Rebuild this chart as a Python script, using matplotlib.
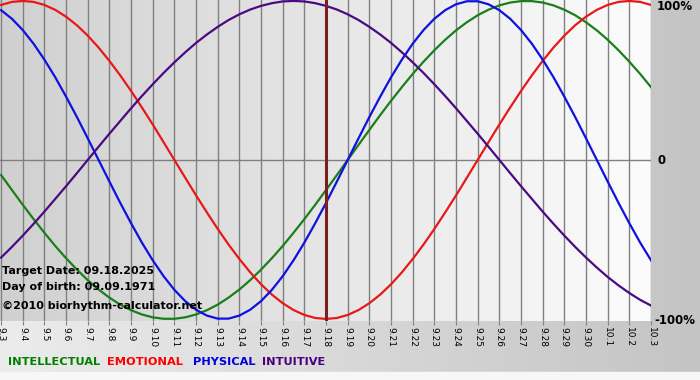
import numpy as np
import matplotlib
matplotlib.use("Agg")
import matplotlib.pyplot as plt
from matplotlib.colors import LinearSegmentedColormap

# day labels, 09.03 -> 10.03
day_labels = ["9.3", "9.4", "9.5", "9.6", "9.7", "9.8", "9.9", "9.10", "9.11",
              "9.12", "9.13", "9.14", "9.15", "9.16", "9.17", "9.18", "9.19",
              "9.20", "9.21", "9.22", "9.23", "9.24", "9.25", "9.26", "9.27",
              "9.28", "9.29", "9.30", "10.1", "10.2", "10.3"]
target_idx = 15  # 9.18

# values (-1 .. 1) every half day, starting at 9.3
intellectual = [-0.095, -0.189, -0.282, -0.372, -0.458, -0.541, -0.618, -0.690, -0.756, -0.815,
                -0.866, -0.910, -0.945, -0.972, -0.990, -0.999, -0.999, -0.990, -0.972, -0.945,
                -0.910, -0.866, -0.815, -0.756, -0.690, -0.618, -0.541, -0.458, -0.372, -0.282,
                -0.189, -0.095, 0.000, 0.095, 0.189, 0.282, 0.372, 0.458, 0.541, 0.618,
                0.690, 0.756, 0.815, 0.866, 0.910, 0.945, 0.972, 0.990, 0.999, 0.999,
                0.990, 0.972, 0.945, 0.910, 0.866, 0.815, 0.756, 0.690, 0.618, 0.541, 0.458]
emotional = [0.975, 0.994, 1.000, 0.994, 0.975, 0.944, 0.901, 0.847, 0.782, 0.707,
             0.623, 0.532, 0.434, 0.330, 0.223, 0.112, 0.000, -0.112, -0.223, -0.330,
             -0.434, -0.532, -0.623, -0.707, -0.782, -0.847, -0.901, -0.944, -0.975, -0.994,
             -1.000, -0.994, -0.975, -0.944, -0.901, -0.847, -0.782, -0.707, -0.623, -0.532,
             -0.434, -0.330, -0.223, -0.112, 0.000, 0.112, 0.223, 0.330, 0.434, 0.532,
             0.623, 0.707, 0.782, 0.847, 0.901, 0.944, 0.975, 0.994, 1.000, 0.994, 0.975]
physical = [0.942, 0.888, 0.817, 0.731, 0.631, 0.520, 0.398, 0.270, 0.136, 0.000,
            -0.136, -0.270, -0.398, -0.520, -0.631, -0.731, -0.817, -0.888, -0.942, -0.979,
            -0.998, -0.998, -0.979, -0.942, -0.888, -0.817, -0.731, -0.631, -0.520, -0.398,
            -0.270, -0.136, 0.000, 0.136, 0.270, 0.398, 0.520, 0.631, 0.731, 0.817,
            0.888, 0.942, 0.979, 0.998, 0.998, 0.979, 0.942, 0.888, 0.817, 0.731,
            0.631, 0.520, 0.398, 0.270, 0.136, 0.000, -0.136, -0.270, -0.398, -0.520, -0.631]
intuitive = [-0.614, -0.547, -0.476, -0.402, -0.325, -0.245, -0.165, -0.083, 0.000, 0.083,
             0.165, 0.245, 0.325, 0.402, 0.476, 0.547, 0.614, 0.677, 0.736, 0.789,
             0.837, 0.880, 0.916, 0.946, 0.969, 0.986, 0.997, 1.000, 0.997, 0.986,
             0.969, 0.946, 0.916, 0.880, 0.837, 0.789, 0.736, 0.677, 0.614, 0.547,
             0.476, 0.402, 0.325, 0.245, 0.165, 0.083, 0.000, -0.083, -0.165, -0.245,
             -0.325, -0.402, -0.476, -0.547, -0.614, -0.677, -0.736, -0.789, -0.837, -0.880, -0.916]

series = [("INTELLECTUAL", intellectual, "#1a7f1a", "#008000"),
          ("EMOTIONAL", emotional, "#e81818", "#ff0000"),
          ("PHYSICAL", physical, "#1010e0", "#0000dd"),
          ("INTUITIVE", intuitive, "#4b0a82", "#4b0082")]

W, H = 700, 380
fig = plt.figure(figsize=(W / 100, H / 100), dpi=100)

# background
bg = fig.add_axes([0, 0, 1, 1])
bg_cmap = LinearSegmentedColormap.from_list("bg", ["#ececec", "#c4c4c4"])
bg.imshow(np.linspace(0, 1, 256)[None, :], extent=[0, W, 372, 0], aspect="auto", cmap=bg_cmap)
bg.axhspan(372, H, color="#f7f7f7")
bg.set_xlim(0, W)
bg.set_ylim(H, 0)
bg.axis("off")

# plot area
ax = fig.add_axes([0 / W, 1 - 321 / H, 651 / W, 321 / H])
x = np.arange(len(day_labels))
xh = np.arange(len(physical)) * 0.5
xlo, xhi = -0.05, 30
ylo, yhi = -1.013, 1.006
pa_cmap = LinearSegmentedColormap.from_list("pa", ["#d0d0d0", "#fcfcfc"])
ax.imshow(np.linspace(0, 1, 256)[None, :], extent=[xlo, xhi, ylo, yhi], aspect="auto",
          cmap=pa_cmap, zorder=0)
ax.set_xlim(xlo, xhi)
ax.set_ylim(ylo, yhi)

ax.set_xticks(x)
ax.set_xticklabels(day_labels, rotation=270, fontsize=6.5, va="top", ha="center")
ax.tick_params(axis="x", length=3, color="#808080", pad=1)
ax.set_yticks([])
ax.grid(axis="x", color="#808080", lw=1, zorder=1)
ax.axhline(0, color="#808080", lw=1, zorder=1)
for s in ax.spines.values():
    s.set_visible(False)

for name, vals, col, _ in series:
    ax.plot(xh, vals, color=col, lw=1.6, zorder=3, solid_joinstyle="round")

# today marker
ax.axvline(x[target_idx], color="#7a1e1e", lw=2.2, zorder=4)

# overlay texts
def px(xp, yp, s, **kw):
    fig.text(xp / W, 1 - yp / H, s, **kw)

px(2, 271, "Target Date: 09.18.2025", fontsize=8, weight="bold", va="center", zorder=5)
px(2, 287, "Day of birth: 09.09.1971", fontsize=8, weight="bold", va="center", zorder=5)
px(2, 306, "\u00a92010 biorhythm-calculator.net", fontsize=8, weight="bold", va="center", zorder=5)

px(657, 7, "100%", fontsize=8.5, weight="bold", va="center")
px(658, 161, "0", fontsize=8.5, weight="bold", va="center")
px(654, 321, "-100%", fontsize=8.5, weight="bold", va="center")

leg_x = [8, 107, 193, 262]
for (name, _, _, tcol), lx in zip(series, leg_x):
    px(lx, 362, name, fontsize=8.2, weight="bold", color=tcol, va="center")

fig.savefig("out.png", dpi=100)
